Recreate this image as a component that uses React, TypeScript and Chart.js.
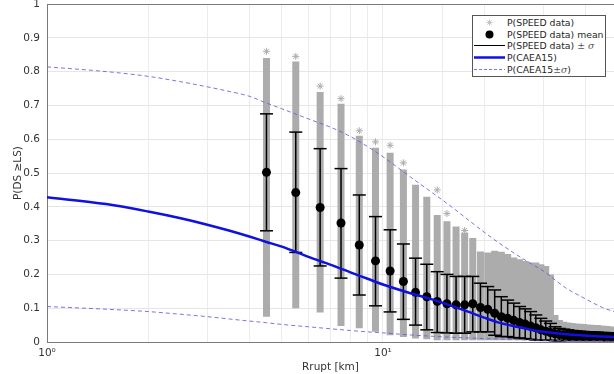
import React, { useEffect, useRef } from 'react';
import { Chart, registerables } from 'chart.js';

Chart.register(...registerables);

// ---- data ----
const rCols = [4.5, 5.5, 6.5, 7.5, 8.5, 9.5, 10.5, 11.5, 12.5, 13.5, 14.5, 15.5, 16.5, 17.5, 18.5, 19.5, 20.5, 21.5, 22.5, 23.5, 24.5, 25.5, 26.5, 27.5, 28.5, 29.5, 30.5, 31.5, 32.5, 33.5, 34.5, 35.5, 36.5, 37.5, 38.5, 39.5, 40.5, 41.5, 42.5, 43.5, 44.5, 45.5, 46.5, 47.5, 48.5];

const speedMin = [0.075, 0.1, 0.087, 0.047, 0.041, 0.03, 0.02, 0.015, 0.01, 0.008, 0.005, 0.005, 0.005, 0.005, 0.005, 0.005, 0.005, 0.005, 0.005, 0.005, 0.005, 0.005, 0.005, 0.005, 0.005, 0.005, 0.005, 0.005, 0.0, 0.0, 0.0, 0.0, 0.0, 0.0, 0.0, 0.0, 0.0, 0.0, 0.0, 0.0, 0.0, 0.0, 0.0, 0.0, 0.0];
const speedMax = [0.84, 0.83, 0.74, 0.705, 0.61, 0.575, 0.56, 0.51, 0.465, 0.43, 0.376, 0.357, 0.342, 0.323, 0.308, 0.268, 0.265, 0.27, 0.267, 0.26, 0.25, 0.245, 0.24, 0.235, 0.235, 0.23, 0.225, 0.2, 0.08, 0.065, 0.06, 0.058, 0.056, 0.055, 0.054, 0.053, 0.052, 0.051, 0.05, 0.05, 0.049, 0.048, 0.047, 0.046, 0.045];

const outlierR = [4.5, 5.5, 6.5, 7.5, 8.5, 9.5, 10.5, 11.5, 14.5, 15.5, 17.5];
const outlierP = [0.86, 0.845, 0.757, 0.72, 0.625, 0.592, 0.582, 0.53, 0.45, 0.38, 0.33];

const speedMean = [0.502, 0.442, 0.398, 0.352, 0.287, 0.24, 0.21, 0.179, 0.147, 0.134, 0.12, 0.113, 0.11, 0.11, 0.113, 0.102, 0.097, 0.085, 0.075, 0.07, 0.064, 0.058, 0.053, 0.047, 0.042, 0.036, 0.032, 0.028, 0.024, 0.022, 0.021, 0.02, 0.019, 0.019, 0.018, 0.018, 0.017, 0.017, 0.016, 0.016, 0.016, 0.015, 0.015, 0.015, 0.015];
const speedUpper = [0.675, 0.621, 0.572, 0.513, 0.435, 0.371, 0.332, 0.29, 0.248, 0.23, 0.208, 0.2, 0.194, 0.194, 0.194, 0.174, 0.164, 0.154, 0.134, 0.124, 0.115, 0.105, 0.098, 0.09, 0.08, 0.07, 0.062, 0.055, 0.045, 0.04, 0.038, 0.036, 0.034, 0.033, 0.032, 0.031, 0.03, 0.03, 0.029, 0.029, 0.028, 0.028, 0.027, 0.027, 0.027];
const speedLower = [0.329, 0.265, 0.225, 0.189, 0.139, 0.107, 0.089, 0.067, 0.05, 0.036, 0.028, 0.027, 0.026, 0.026, 0.03, 0.03, 0.03, 0.02, 0.016, 0.016, 0.013, 0.012, 0.01, 0.008, 0.006, 0.005, 0.005, 0.005, 0.004, 0.004, 0.005, 0.005, 0.005, 0.005, 0.005, 0.005, 0.005, 0.005, 0.005, 0.005, 0.005, 0.005, 0.005, 0.005, 0.005];

const curveR = [1, 1.5, 2, 2.5, 3, 3.5, 4, 4.5, 5, 6, 7, 8, 9, 10, 12, 14, 16, 18, 20, 22, 25, 28, 30, 35, 40, 45, 48.7];
const caea = [0.428, 0.408, 0.386, 0.366, 0.347, 0.329, 0.312, 0.296, 0.282, 0.252, 0.228, 0.206, 0.187, 0.17, 0.145, 0.126, 0.107, 0.089, 0.072, 0.058, 0.045, 0.035, 0.03, 0.023, 0.019, 0.016, 0.015];
const caeaHi = [0.814, 0.8, 0.786, 0.77, 0.755, 0.741, 0.727, 0.707, 0.69, 0.66, 0.635, 0.608, 0.578, 0.548, 0.49, 0.442, 0.4, 0.36, 0.325, 0.295, 0.258, 0.228, 0.21, 0.16, 0.128, 0.102, 0.09];
const caeaLo = [0.105, 0.097, 0.09, 0.082, 0.075, 0.068, 0.062, 0.057, 0.052, 0.045, 0.039, 0.034, 0.03, 0.027, 0.021, 0.017, 0.014, 0.012, 0.01, 0.009, 0.007, 0.006, 0.005, 0.004, 0.003, 0.003, 0.002];

const xMin = 1;
const xMax = 48.7;
const yMax = 1;

const legendLabels = ['P(SPEED data)', 'P(SPEED data) mean', 'P(SPEED data) \u00b1 \u03c3', 'P(CAEA15)', 'P(CAEA15\u00b1\u03c3)'];

const FONT = "'DejaVu Sans', sans-serif";
const GRAY = '#acacac';
const DASH_COLOR = 'rgba(95,95,225,0.85)';
const AXIS_COLOR = '#7a7a7a';

function segments(lo: number[], hi: number[]) {
  const out: any[] = [];
  rCols.forEach((r, i) => {
    out.push({ x: r, y: lo[i] }, { x: r, y: hi[i] }, { x: r, y: null });
  });
  return out;
}

function LegendText({ text }: { text: string }) {
  const parts = text.split(/(\u00b1|\u03c3)/);
  return (
    <span>
      {parts.map((p, i) =>
        p === '\u03c3' ? (
          <i key={i} style={{ fontFamily: "'DejaVu Serif', serif", color: '#555' }}>{p}</i>
        ) : p === '\u00b1' ? (
          <span key={i} style={{ fontFamily: "'DejaVu Serif', serif", color: '#555' }}>{p}</span>
        ) : (
          <span key={i}>{p}</span>
        )
      )}
    </span>
  );
}

function Marker({ kind }: { kind: number }) {
  if (kind === 0) {
    return (
      <svg width={33} height={11}>
        <g stroke="#c4c4c4" strokeWidth={1}>
          <line x1={16.5} y1={2.5} x2={16.5} y2={8.5} />
          <line x1={13.5} y1={5.5} x2={19.5} y2={5.5} />
          <line x1={14.4} y1={3.4} x2={18.6} y2={7.6} />
          <line x1={14.4} y1={7.6} x2={18.6} y2={3.4} />
        </g>
      </svg>
    );
  }
  if (kind === 1) {
    return (
      <svg width={33} height={11}>
        <circle cx={16.5} cy={5.5} r={4} fill="#000" />
      </svg>
    );
  }
  if (kind === 2) {
    return (
      <svg width={33} height={11}>
        <line x1={1} y1={5.5} x2={32} y2={5.5} stroke="#000" strokeWidth={1} />
      </svg>
    );
  }
  if (kind === 3) {
    return (
      <svg width={33} height={11}>
        <line x1={1} y1={5.5} x2={32} y2={5.5} stroke="#1010e0" strokeWidth={2.5} />
      </svg>
    );
  }
  return (
    <svg width={33} height={11}>
      <line x1={1} y1={5.5} x2={32} y2={5.5} stroke={DASH_COLOR} strokeWidth={1} strokeDasharray="3 2" />
    </svg>
  );
}

const framePlugin = {
  id: 'topFrame',
  afterDraw(chart: any) {
    const { ctx, chartArea } = chart;
    ctx.save();
    ctx.strokeStyle = AXIS_COLOR;
    ctx.lineWidth = 1;
    ctx.beginPath();
    ctx.moveTo(chartArea.left, Math.round(chartArea.top) + 0.5);
    ctx.lineTo(chartArea.right, Math.round(chartArea.top) + 0.5);
    ctx.stroke();
    ctx.restore();
  },
};

export default function App() {
  const ref = useRef<HTMLCanvasElement>(null);

  useEffect(() => {
    if (!ref.current) return;
    const chart = new Chart(ref.current, {
      type: 'scatter',
      plugins: [framePlugin],
      data: {
        datasets: [
          {
            label: legendLabels[4],
            data: curveR.map((r, i) => ({ x: r, y: caeaHi[i] })),
            showLine: true,
            borderColor: DASH_COLOR,
            borderWidth: 1,
            borderDash: [4, 3],
            pointRadius: 0,
            cubicInterpolationMode: 'monotone',
            order: 1,
          },
          {
            label: legendLabels[4] + ' lo',
            data: curveR.map((r, i) => ({ x: r, y: caeaLo[i] })),
            showLine: true,
            borderColor: DASH_COLOR,
            borderWidth: 1,
            borderDash: [4, 3],
            pointRadius: 0,
            cubicInterpolationMode: 'monotone',
            order: 1,
          },
          {
            label: legendLabels[3],
            data: curveR.map((r, i) => ({ x: r, y: caea[i] })),
            showLine: true,
            borderColor: '#1010e0',
            borderWidth: 2.5,
            pointRadius: 0,
            cubicInterpolationMode: 'monotone',
            order: 2,
          },
          {
            label: legendLabels[1],
            data: rCols.map((r, i) => ({ x: r, y: speedMean[i] })),
            pointRadius: 4.5,
            pointStyle: 'circle',
            backgroundColor: '#000',
            borderColor: '#000',
            borderWidth: 0,
            order: 3,
          },
          {
            label: legendLabels[2] + ' caps',
            data: rCols
              .map((r, i) => ({ x: r, y: speedUpper[i] }))
              .concat(rCols.map((r, i) => ({ x: r, y: speedLower[i] }))),
            pointStyle: 'line',
            pointRadius: 6.5,
            borderColor: '#000',
            borderWidth: 1.5,
            order: 4,
          },
          {
            label: legendLabels[2],
            data: segments(speedLower, speedUpper),
            showLine: true,
            spanGaps: false,
            borderColor: '#000',
            borderWidth: 1.5,
            pointRadius: 0,
            order: 5,
          },
          {
            label: legendLabels[0] + ' outliers',
            data: outlierR.map((r, i) => ({ x: r, y: outlierP[i] })),
            pointStyle: 'star',
            pointRadius: 3.5,
            borderColor: GRAY,
            borderWidth: 1,
            order: 6,
          },
          {
            label: legendLabels[0],
            data: segments(speedMin, speedMax),
            showLine: true,
            spanGaps: false,
            borderColor: GRAY,
            borderWidth: 7,
            borderCapStyle: 'butt',
            pointRadius: 0,
            order: 7,
          },
        ],
      },
      options: {
        animation: false,
        responsive: false,
        devicePixelRatio: 1,
        layout: { padding: { top: 0, right: 0, bottom: 0, left: 0 } },
        plugins: { legend: { display: false }, tooltip: { enabled: false } },
        scales: {
          x: {
            type: 'logarithmic',
            position: 'bottom',
            min: xMin,
            max: xMax,
            afterFit: (s: any) => {
              s.height = 32;
              s.paddingLeft = 0;
              s.paddingRight = 0;
            },
            grid: { color: '#ececec', drawTicks: false, lineWidth: 1 },
            border: { display: true, color: AXIS_COLOR },
            ticks: {
              autoSkip: false,
              maxRotation: 0,
              padding: 5,
              color: '#333',
              font: { family: FONT, size: 10.5 },
              callback: (v: any) => (v === 1 ? '10\u2070' : v === 10 ? '10\u00b9' : ''),
            },
            title: {
              display: true,
              text: 'Rrupt [km]',
              color: '#333',
              font: { family: FONT, size: 10.5 },
              padding: { top: 0, bottom: 0 },
            },
          },
          y: {
            min: 0,
            max: yMax,
            afterFit: (s: any) => {
              s.width = 47;
              s.paddingTop = 0;
              s.paddingBottom = 0;
            },
            grid: { color: '#e6e6e6', drawTicks: false },
            border: { display: true, color: AXIS_COLOR },
            ticks: {
              stepSize: 0.1,
              padding: 7,
              color: '#333',
              font: { family: FONT, size: 10.5 },
              callback: (v: any) => String(Math.round(Number(v) * 10) / 10),
            },
            title: {
              display: true,
              text: 'P(DS \u2265LS)',
              color: '#333',
              font: { family: FONT, size: 10.5 },
              padding: { top: 12, bottom: 0 },
            },
          },
        },
      },
    } as any);
    return () => chart.destroy();
  }, []);

  return (
    <div style={{ position: 'absolute', left: 0, top: 0, width: 614, height: 374, background: '#fff', overflow: 'hidden' }}>
      <canvas
        ref={ref}
        width={622}
        height={378}
        style={{ display: 'block', position: 'absolute', left: 0, top: -4 }}
      />
      <div
        style={{
          position: 'absolute',
          left: 472,
          top: 15,
          width: 134,
          height: 62,
          border: '1px solid #555',
          background: '#fff',
          boxSizing: 'border-box',
          paddingTop: 1,
          fontFamily: FONT,
          fontSize: 9.3,
          color: '#262626',
        }}
      >
        {legendLabels.map((t, i) => (
          <div key={i} style={{ display: 'flex', alignItems: 'center', height: 11.6, whiteSpace: 'nowrap' }}>
            <div style={{ width: 34, height: 11, flex: '0 0 34px' }}>
              <Marker kind={i} />
            </div>
            <LegendText text={t} />
          </div>
        ))}
      </div>
    </div>
  );
}
